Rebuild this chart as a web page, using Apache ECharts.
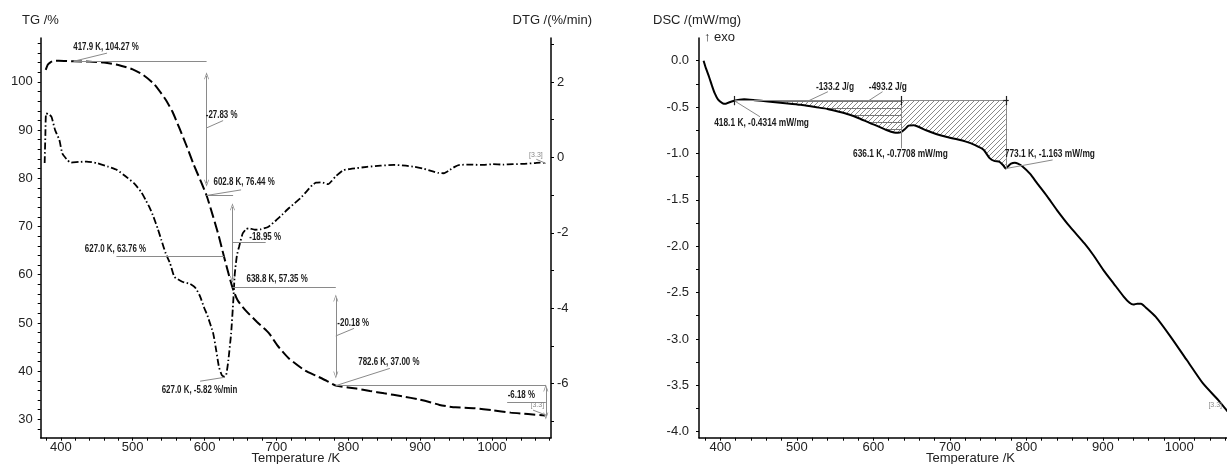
<!DOCTYPE html>
<html><head><meta charset="utf-8">
<script src="https://cdn.jsdelivr.net/npm/echarts@6/dist/echarts.min.js"></script>
<style>html,body{margin:0;padding:0;background:#fff}#c{width:1227px;height:464px}</style>
</head><body><div id="c"></div>
<script>
// ---------------- DATA ----------------
const xLabelValues = [400, 500, 600, 700, 800, 900, 1000];
const tgLabelValues = [30, 40, 50, 60, 70, 80, 90, 100];
const dtgLabelValues = [-6, -4, -2, 0, 2];
const dscLabelValues = [0, -0.5, -1, -1.5, -2, -2.5, -3, -3.5, -4];

// TG (%) vs temperature (K)
const tgData = [
  [379, 102.5], [382, 103.6], [386, 104.1], [390, 104.35], [397, 104.4], [417.9, 104.27],
  [440, 104.2], [460, 104.0], [480, 103.5], [500, 102.6], [515, 101.4], [530, 99.5],
  [545, 96.5], [555, 93.9], [565, 90.4], [575, 86.7], [585, 82.8], [595, 79.3],
  [602.8, 76.44], [612, 72.0], [620, 67.9], [627, 63.76], [633, 60.4], [638.8, 57.35],
  [646, 54.7], [657, 52.6], [673, 50.2], [690, 47.8], [701, 45.4], [717, 42.7],
  [740, 40.1], [756, 39.0], [770, 38.0], [782.6, 37.0], [811, 36.4], [830, 35.9],
  [850, 35.4], [875, 34.8], [899, 34.1], [915, 33.5], [927, 33.0], [938, 32.7],
  [949, 32.5], [976, 32.3], [1000, 31.9], [1026, 31.4], [1050, 31.1], [1074, 30.82]
];

// DTG (%/min) vs temperature (K)
const dtgData = [
  [377.5, -0.15], [378.5, 0.6], [379.5, 1.17], [383, 1.15], [387, 1.08], [392, 0.73],
  [398, 0.46], [402, 0.11], [409, -0.07], [414, -0.14], [425, -0.12], [436, -0.11],
  [450, -0.15], [465, -0.24], [478, -0.33], [490, -0.5], [502, -0.69], [512, -0.92],
  [518, -1.13], [524, -1.35], [529, -1.58], [535, -1.9], [540, -2.2], [546, -2.55],
  [552, -2.81], [558, -3.17], [569, -3.3], [580, -3.36], [588, -3.48], [594, -3.7],
  [599, -3.97], [604, -4.2], [612, -4.67], [616, -5.1], [620, -5.56], [624, -5.78],
  [627, -5.82], [630, -5.78], [633, -5.4], [637, -4.66], [640, -3.79], [642, -3.1],
  [645, -2.6], [648, -2.37], [653, -2.02], [658, -1.9], [662, -1.88], [670, -1.92],
  [678, -1.91], [689, -1.84], [700, -1.66], [708, -1.52], [717, -1.35], [725, -1.22],
  [733, -1.09], [742, -0.9], [750, -0.73], [755, -0.67], [763, -0.66], [772, -0.71],
  [777, -0.62], [782, -0.51], [793, -0.34], [805, -0.3], [826, -0.25], [845, -0.22],
  [864, -0.2], [880, -0.22], [892, -0.25], [905, -0.3], [915, -0.36], [925, -0.41],
  [933, -0.42], [940, -0.35], [948, -0.25], [955, -0.2], [970, -0.19], [985, -0.2],
  [1001, -0.18], [1015, -0.19], [1029, -0.18], [1045, -0.17], [1060, -0.15],
  [1067, -0.14], [1073, -0.15]
];

// DSC (mW/mg) vs temperature (K)
const dscData = [
  [378, 0.0], [381, -0.08], [385, -0.17], [389, -0.27], [392.5, -0.35], [397, -0.42],
  [403, -0.46], [407, -0.465], [411, -0.45], [418.1, -0.4314], [425, -0.42], [431, -0.415],
  [445, -0.425], [462, -0.44], [488, -0.46], [505, -0.475], [524, -0.5], [540, -0.52],
  [555, -0.55], [568, -0.58], [581, -0.62], [595, -0.67], [607, -0.71], [618, -0.75],
  [627, -0.775], [632, -0.778], [636.1, -0.7708], [641, -0.74], [646, -0.70], [653, -0.695],
  [661, -0.72], [669, -0.75], [682, -0.79], [695, -0.82], [708, -0.845], [720, -0.87],
  [733, -0.91], [744, -0.96], [752, -1.05], [758, -1.08], [765, -1.09], [770, -1.13],
  [773.1, -1.163], [776, -1.14], [780, -1.11], [785, -1.10], [789, -1.11], [795, -1.14],
  [805, -1.22], [814, -1.32], [827, -1.46], [840, -1.61], [857, -1.79], [876, -1.97],
  [888, -2.1], [901, -2.26], [914, -2.4], [927, -2.54], [935, -2.61], [940, -2.63],
  [945, -2.62], [950, -2.62], [956, -2.66], [969, -2.76], [989, -2.98], [1010, -3.23],
  [1031, -3.48], [1051, -3.66], [1062, -3.77], [1075, -3.9]
];

// Peak integration range (K) and baseline level (mW/mg)
const dscBaseline = -0.4314;
const dscPeakStart = 418.1, dscPeakMid = 636.1, dscPeakEnd = 773.1;

// Annotations (data coordinates)
const tgAnnoLines = [
  {from: [417.9, 104.27], to: [602.8, 104.27]},
  {from: [417.9, 104.27], to: [464.3, 105.96]},
  {from: [602.8, 101.25], to: [602.8, 78.98], arrows: true},
  {from: [602.8, 90.45], to: [625.8, 91.97]},
  {from: [602.8, 76.44], to: [639.7, 76.44]},
  {from: [602.8, 76.44], to: [650.8, 77.6]},
  {from: [638.8, 74.1], to: [638.8, 59.0], arrows: true},
  {from: [638.8, 66.65], to: [685, 66.65]},
  {from: [477.4, 63.76], to: [627.0, 63.76]},
  {from: [638.8, 57.35], to: [782.6, 57.35]},
  {from: [782.6, 55.17], to: [782.6, 39.19], arrows: true},
  {from: [782.6, 47.3], to: [808, 48.88]},
  {from: [782.6, 37.0], to: [1075, 37.0]},
  {from: [782.6, 37.0], to: [857.8, 40.58]},
  {from: [1074.8, 36.49], to: [1074.8, 30.7], arrows: true},
  {from: [1021, 33.65], to: [1074.8, 33.65]},
  {from: [1057, 31.92], to: [1074.8, 30.9]}
];
const tgAnnoLabels = [
  {text: '417.9 K, 104.27 %', at: [462.9, 107.26]},
  {text: '-27.83 %', at: [623.7, 93.15]},
  {text: '602.8 K, 76.44 %', at: [655, 79.18]},
  {text: '-18.95 %', at: [684.3, 67.77]},
  {text: '627.0 K, 63.76 %', at: [476, 65.28]},
  {text: '638.8 K, 57.35 %', at: [701, 59.05]},
  {text: '-20.18 %', at: [806.8, 50.04]},
  {text: '782.6 K, 37.00 %', at: [856.4, 41.95]},
  {text: '-6.18 %', at: [1040.7, 35.04]},
  {text: '[3.3]', at: [1063, 33.0], small: true}
];
const dtgAnnoLines = [
  {from: [593.8, -5.94], to: [626.8, -5.84]},
  {from: [1061.6, -0.05], to: [1075, -0.16]}
];
const dtgAnnoLabels = [
  {text: '627.0 K, -5.82 %/min', at: [593, -6.16]},
  {text: '[3.3]', at: [1061, 0.06], small: true}
];
const dscAnnoLines = [
  {from: [418.1, -0.4314], to: [773.1, -0.4314]},
  {from: [636.1, -0.4314], to: [636.1, -0.944]},
  {from: [773.1, -0.4314], to: [773.1, -1.163]},
  {from: [418.1, -0.4314], to: [451.7, -0.604]},
  {from: [773.1, -1.163], to: [834.4, -1.07]},
  {from: [540.6, -0.334], to: [511.9, -0.445]},
  {from: [612, -0.334], to: [594, -0.43]},
  {from: [418.1, -0.38], to: [418.1, -0.48], dark: true},
  {from: [636.1, -0.38], to: [636.1, -0.48], dark: true},
  {from: [773.1, -0.38], to: [773.1, -0.48], dark: true},
  {from: [770, -0.4314], to: [777, -0.4314], dark: true}
];
const dscAnnoLabels = [
  {text: '418.1 K, -0.4314 mW/mg', at: [453.8, -0.675]},
  {text: '-133.2 J/g', at: [549.8, -0.287]},
  {text: '-493.2 J/g', at: [619, -0.287]},
  {text: '636.1 K, -0.7708 mW/mg', at: [635.4, -1.006]},
  {text: '773.1 K, -1.163 mW/mg', at: [830.8, -1.006]},
  {text: '[3.3]', at: [1047, -3.71], small: true}
];

// ---------------- CHART ----------------
const F = "'Liberation Sans', Arial, sans-serif";
const ARROW = 'path://M5,0 L10,10 L8.6,10 L5,3 L1.4,10 L0,10 Z';

function steps(a, b, s) { const r = []; for (let v = a; v <= b + 1e-9; v += s) r.push(+v.toFixed(4)); return r; }

function makeHatch(kind) {
  const c = document.createElement('canvas');
  const ctx = c.getContext('2d');
  if (kind === 'diag') {
    c.width = 5; c.height = 5;
    ctx.strokeStyle = '#6a6a6a'; ctx.lineWidth = 0.8;
    ctx.beginPath();
    ctx.moveTo(0, 5); ctx.lineTo(5, 0);
    ctx.moveTo(-1, 1); ctx.lineTo(1, -1);
    ctx.moveTo(4, 6); ctx.lineTo(6, 4);
    ctx.stroke();
  } else {
    c.width = 8; c.height = 7;
    ctx.fillStyle = '#777';
    ctx.fillRect(0, 3, 8, 1);
  }
  return c;
}

function markLines(list) {
  return {
    silent: true, animation: false, symbol: ['none', 'none'],
    label: {show: false}, emphasis: {disabled: true},
    lineStyle: {color: '#8a8a8a', width: 1, type: 'solid'},
    data: list.map(l => [
      {coord: l.from, symbol: l.arrows ? ARROW : 'none', symbolSize: [5, 7],
       lineStyle: l.dark ? {color: '#222', width: 1.2, type: 'solid'} : undefined,
       itemStyle: {color: '#8a8a8a'}},
      {coord: l.to, symbol: l.arrows ? ARROW : 'none', symbolSize: [5, 7], itemStyle: {color: '#8a8a8a'}}
    ])
  };
}

const xMinor = steps(380, 1080, 20);
const X_MIN = 372, X_MAX = 1082;

function xAxisCfg(grid) {
  return {
    type: 'value', gridIndex: grid, min: X_MIN, max: X_MAX,
    axisLine: {show: true, onZero: false, lineStyle: {color: '#000', width: 1.5}},
    axisTick: {show: true, customValues: xMinor, length: 3, lineStyle: {color: '#000', width: 1}},
    axisLabel: {customValues: xLabelValues, margin: 3, fontSize: 13, color: '#222', fontFamily: F,
                formatter: v => String(v)},
    splitLine: {show: false}
  };
}
function yAxisCfg(grid, pos, min, max, labels, ticks, margin, fmt) {
  return {
    type: 'value', gridIndex: grid, position: pos, min: min, max: max,
    axisLine: {show: true, onZero: false, lineStyle: {color: '#000', width: 1.5}},
    axisTick: {show: true, customValues: ticks, length: 3, lineStyle: {color: '#000', width: 1}},
    axisLabel: {customValues: labels, margin: margin, fontSize: 13, color: '#222', fontFamily: F,
                formatter: fmt || (v => String(v))},
    splitLine: {show: false}
  };
}

const titles = [
  {type: 'text', x: 22, y: 20, silent: true, style: {text: 'TG /%', font: '13px ' + F, fill: '#222', verticalAlign: 'middle'}},
  {type: 'text', x: 592, y: 20, silent: true, style: {text: 'DTG /(%/min)', font: '13px ' + F, fill: '#222', align: 'right', verticalAlign: 'middle'}},
  {type: 'text', x: 653, y: 20, silent: true, style: {text: 'DSC /(mW/mg)', font: '13px ' + F, fill: '#222', verticalAlign: 'middle'}},
  {type: 'text', x: 704, y: 37, silent: true, style: {text: '\u2191 exo', font: '13px ' + F, fill: '#222', verticalAlign: 'middle'}}
];

const chart = echarts.init(document.getElementById('c'), null, {renderer: 'canvas'});

const hatchRange = dscData.filter(d => d[0] >= dscPeakStart && d[0] <= dscPeakEnd);
const hatchRange2 = dscData.filter(d => d[0] >= dscPeakStart && d[0] <= dscPeakMid);

chart.setOption({
  animation: false,
  backgroundColor: '#fff',
  grid: [
    {left: 40.7, top: 38, width: 510.3, bottom: 26.3, outerBoundsMode: 'none'},
    {left: 699, top: 38, width: 543, bottom: 26.3, outerBoundsMode: 'none'}
  ],
  xAxis: [xAxisCfg(0), xAxisCfg(1)],
  yAxis: [
    yAxisCfg(0, 'left', 26.2, 109.1, tgLabelValues, steps(28, 108, 2), 8),
    yAxisCfg(0, 'right', -7.44, 3.17, dtgLabelValues, steps(-7, 3, 1), 6),
    yAxisCfg(1, 'left', -4.065, 0.245, dscLabelValues, steps(-4, 0, 0.25), 10, v => v.toFixed(1))
  ],
  graphic: titles,
  series: [
    {
      name: 'hatch-diag', type: 'line', xAxisIndex: 1, yAxisIndex: 2, data: hatchRange,
      showSymbol: false, silent: true, lineStyle: {width: 0, opacity: 0}, z: 1,
      areaStyle: {origin: dscBaseline, opacity: 1, color: {image: makeHatch('diag'), repeat: 'repeat'}}
    },
    {
      name: 'hatch-horiz', type: 'line', xAxisIndex: 1, yAxisIndex: 2, data: hatchRange2,
      showSymbol: false, silent: true, lineStyle: {width: 0, opacity: 0}, z: 1,
      areaStyle: {origin: dscBaseline, opacity: 1, color: {image: makeHatch('horiz'), repeat: 'repeat'}}
    },
    {
      name: 'TG', type: 'line', xAxisIndex: 0, yAxisIndex: 0, data: tgData,
      showSymbol: false, smooth: 0.2, z: 3,
      lineStyle: {color: '#000', width: 2, type: [11, 4]},
      markLine: markLines(tgAnnoLines)
    },
    {
      name: 'DTG', type: 'line', xAxisIndex: 0, yAxisIndex: 1, data: dtgData,
      showSymbol: false, smooth: 0.15, z: 3,
      lineStyle: {color: '#000', width: 1.8, type: [7, 2.5, 1.5, 2.5]},
      markLine: markLines(dtgAnnoLines)
    },
    {
      name: 'DSC', type: 'line', xAxisIndex: 1, yAxisIndex: 2, data: dscData,
      showSymbol: false, smooth: 0.2, z: 3,
      lineStyle: {color: '#000', width: 2},
      markLine: markLines(dscAnnoLines)
    }
  ]
});

// annotation texts positioned from data coordinates (narrow, condensed like the original)
const labelGroups = [
  {list: tgAnnoLabels, seriesIndex: 2, scale: 0.72},
  {list: dtgAnnoLabels, seriesIndex: 3, scale: 0.72},
  {list: dscAnnoLabels, seriesIndex: 4, scale: 0.76}
];
const extraEls = [];
labelGroups.forEach(g => g.list.forEach(l => {
  const p = chart.convertToPixel({seriesIndex: g.seriesIndex}, l.at);
  extraEls.push({
    type: 'text', x: p[0], y: p[1], scaleX: l.small ? 1 : g.scale, silent: true, z: 10,
    style: {
      text: l.text, font: l.small ? '7px ' + F : 'bold 11px ' + F,
      fill: l.small ? '#888' : '#1a1a1a', align: 'center', verticalAlign: 'middle'
    }
  });
}));
// axis titles "Temperature /K", centred under each x axis
[2, 4].forEach(si => {
  const p = chart.convertToPixel({seriesIndex: si}, [(X_MIN + X_MAX) / 2, 0]);
  extraEls.push({
    type: 'text', x: p[0], y: 458, silent: true,
    style: {text: 'Temperature /K', font: '13px ' + F, fill: '#222', align: 'center', verticalAlign: 'middle'}
  });
});
chart.setOption({graphic: titles.concat(extraEls)});
</script></body></html>
